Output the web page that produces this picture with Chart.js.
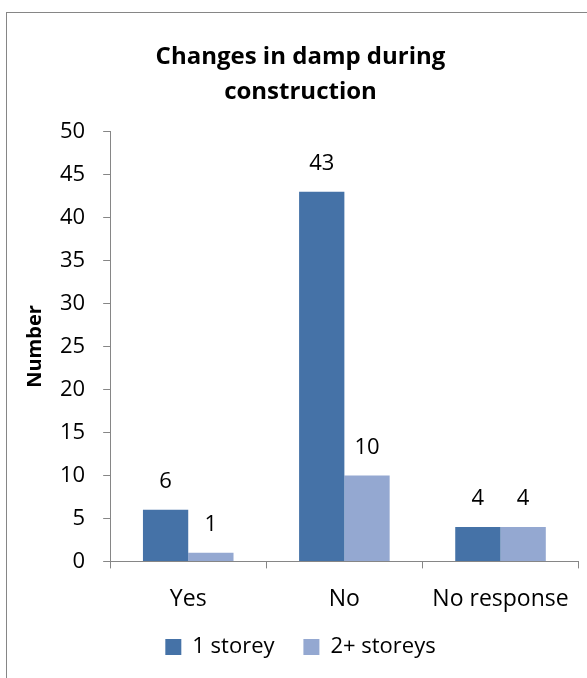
<!DOCTYPE html>
<html>
<head>
<meta charset="utf-8">
<script src="https://cdn.jsdelivr.net/npm/chart.js@4/dist/chart.umd.min.js"></script>
<style>
    html, body { margin: 0; padding: 0; background: #fff; }
    #wrap { position: relative; width: 587px; height: 678px; overflow: hidden; }
    #frame { position: absolute; left: 6px; top: 12px; width: 600px; height: 700px; border: 1px solid #868686; box-sizing: border-box; }
    #chart { position: absolute; left: 0; top: 0; }
</style>
</head>
<body>
<div id="wrap">
    <div id="frame"></div>
    <canvas id="chart" width="587" height="678"></canvas>
</div>
<script>
const categories = ["Yes", "No", "No response"];
const oneStorey = [6, 43, 4];
const twoPlusStoreys = [1, 10, 4];
const yTicks = [0, 5, 10, 15, 20, 25, 30, 35, 40, 45, 50];

const fontFamily = "'Open Sans', 'Noto Sans', sans-serif";

// labels above each bar
const barValueLabels = {
    id: 'barValueLabels',
    afterDatasetsDraw(chart) {
        const ctx = chart.ctx;
        ctx.save();
        ctx.font = "22px " + fontFamily;
        ctx.fillStyle = "#000";
        ctx.textAlign = "center";
        ctx.textBaseline = "middle";
        chart.data.datasets.forEach((ds, i) => {
            chart.getDatasetMeta(i).data.forEach((bar, j) => {
                ctx.fillText(ds.data[j], bar.x, bar.y - 28);
            });
        });
        ctx.restore();
    }
};

const chart = new Chart(document.getElementById('chart'), {
    type: 'bar',
    data: {
        labels: categories,
        datasets: [
            {
                label: "1 storey",
                data: oneStorey,
                backgroundColor: "#4572A7",
                borderWidth: 0
            },
            {
                label: "2+ storeys",
                data: twoPlusStoreys,
                backgroundColor: "#94A8D1",
                borderWidth: 0
            }
        ]
    },
    options: {
        responsive: false,
        animation: false,
        devicePixelRatio: 1,
        layout: { padding: { left: 22, right: 8, top: 40, bottom: 10 } },
        datasets: {
            bar: { categoryPercentage: 0.58, barPercentage: 1 }
        },
        plugins: {
            title: {
                display: true,
                text: ["Changes in damp during", "construction"],
                color: "#000",
                font: { family: fontFamily, size: 24, weight: 'bold', lineHeight: 1.45 },
                padding: { top: 0, bottom: 22 }
            },
            legend: {
                position: 'bottom',
                labels: {
                    color: "#000",
                    boxWidth: 16,
                    boxHeight: 16,
                    padding: 6,
                    font: { family: fontFamily, size: 22 },
                    // wider gap between the two items without a taller legend
                    generateLabels: chart => {
                        const items = Chart.defaults.plugins.legend.labels.generateLabels(chart);
                        items.forEach((it, i) => {
                            if (i < items.length - 1) it.text = it.text + "    ";
                        });
                        return items;
                    }
                }
            },
            tooltip: { enabled: false }
        },
        scales: {
            x: {
                grid: { drawOnChartArea: false, drawTicks: true, tickLength: 7, color: "#868686", offset: true },
                border: { color: "#868686" },
                ticks: { color: "#000", padding: 17, font: { family: fontFamily, size: 23 } }
            },
            y: {
                min: 0,
                max: 50,
                afterBuildTicks: axis => { axis.ticks = yTicks.map(v => ({ value: v })); },
                grid: { drawOnChartArea: false, drawTicks: true, tickLength: 7, color: "#868686" },
                border: { color: "#868686" },
                ticks: { color: "#000", padding: 18, font: { family: fontFamily, size: 22 } },
                title: {
                    display: true,
                    text: "Number",
                    color: "#000",
                    padding: { top: 3, bottom: -3 },
                    font: { family: fontFamily, size: 20, weight: 'bold', lineHeight: 1 }
                }
            }
        }
    },
    plugins: [barValueLabels]
});
</script>
</body>
</html>
